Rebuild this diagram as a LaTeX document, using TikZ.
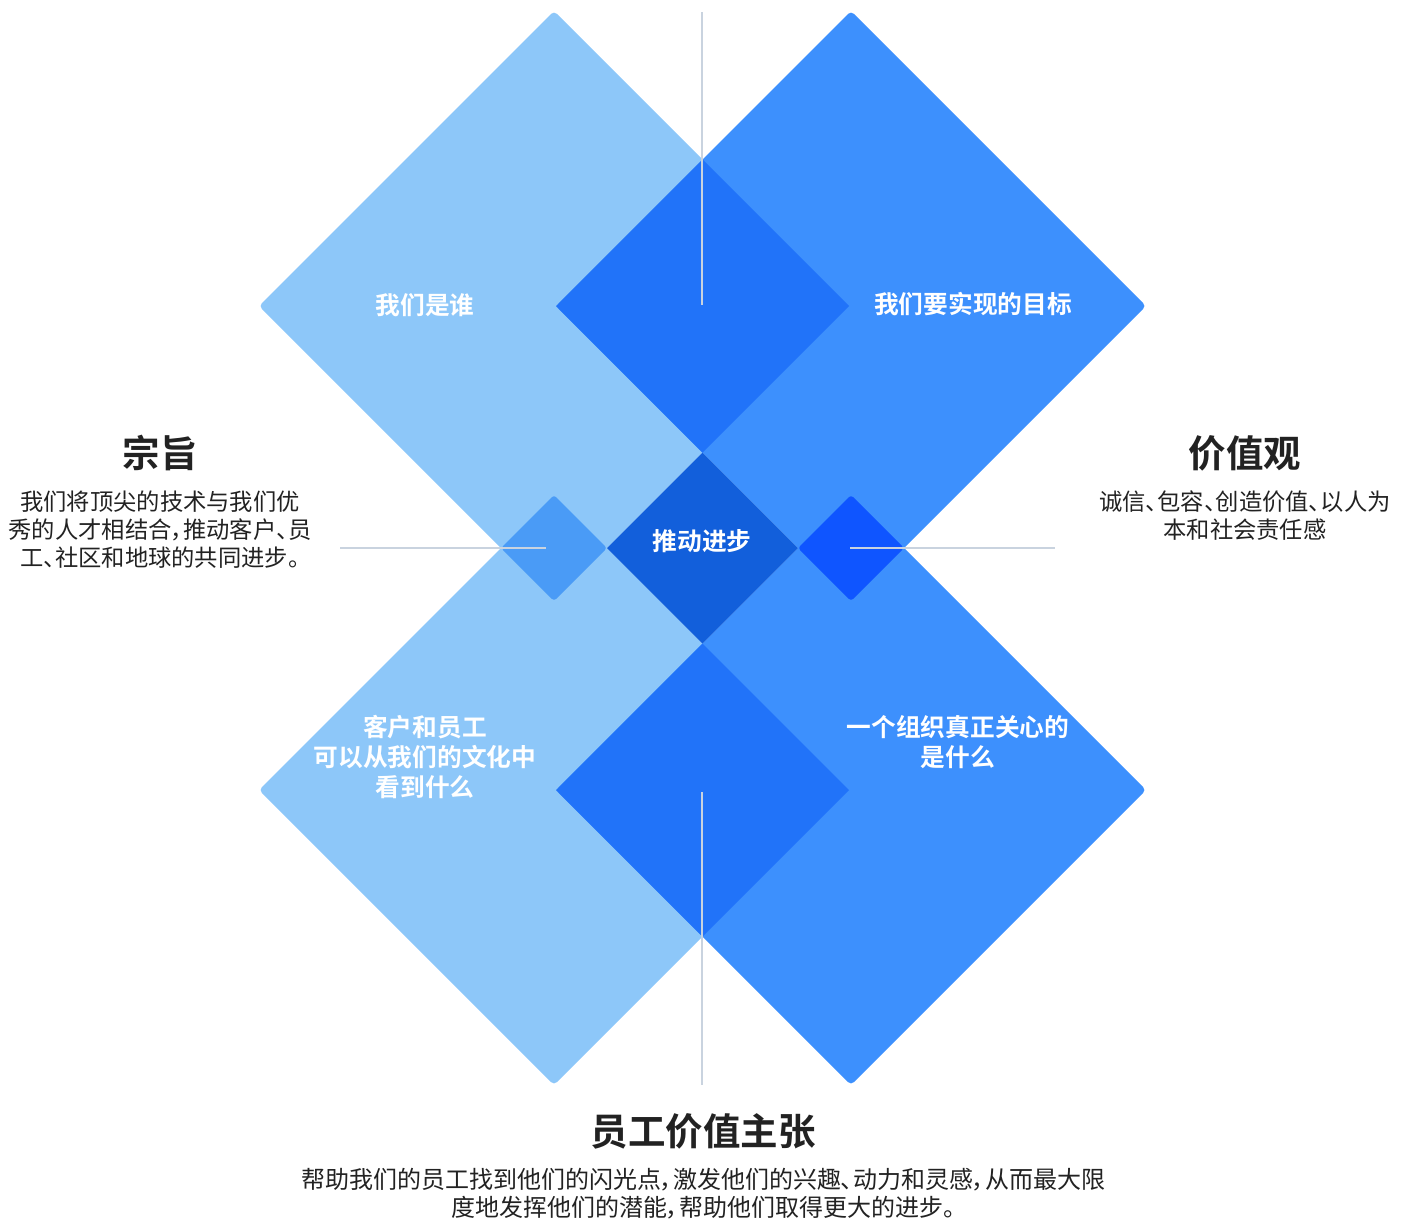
\documentclass[tikz,border=0pt]{standalone}
\usepackage{fontspec}
\setmainfont{Noto Sans CJK SC}[BoldFont={Noto Sans CJK SC Bold},RawFeature={+palt}]
\definecolor{cLight}{HTML}{8DC7F9}
\definecolor{cBlue}{HTML}{3D90FD}
\definecolor{cMid}{HTML}{2173F9}
\definecolor{cSmallL}{HTML}{4A9BF6}
\definecolor{cSmallR}{HTML}{0F55FF}
\definecolor{cCenter}{HTML}{125FDB}
\definecolor{cLine}{HTML}{C9D3DF}
\definecolor{cText}{HTML}{222222}
\tikzset{
  inlabel/.style={text=white,font=\bfseries\fontsize{24.7}{30}\selectfont,align=center,inner sep=0pt},
  headline/.style={text=cText,font=\bfseries\fontsize{37.5}{40}\selectfont,inner sep=0pt},
  bodytext/.style={text=cText,font=\fontsize{23.3}{28}\selectfont,align=center,inner sep=0pt},
  bodywide/.style={bodytext,font=\fontsize{24}{28}\selectfont},
  guide/.style={draw=cLine,line width=2.5pt}
}
\begin{document}
\begin{tikzpicture}[x=1pt,y=-1pt]
\useasboundingbox (0,0) rectangle (1410,1219);
% big diamonds
\fill[cLight,rounded corners=4] (554,11) -- (849,306) -- (554,601) -- (259,306) -- cycle;
\fill[cBlue,rounded corners=4] (851,11) -- (1146,306) -- (851,601) -- (556,306) -- cycle;
\fill[cLight,rounded corners=4] (554,495) -- (849,790) -- (554,1085) -- (259,790) -- cycle;
\fill[cBlue,rounded corners=4] (851,495) -- (1146,790) -- (851,1085) -- (556,790) -- cycle;
% overlaps
\fill[cMid] (702.5,159.5) -- (849,306) -- (702.5,452.5) -- (556,306) -- cycle;
\fill[cMid] (702.5,643.5) -- (849,790) -- (702.5,936.5) -- (556,790) -- cycle;
\fill[cSmallL,rounded corners=3] (554,495) -- (607,548) -- (554,601) -- (501,548) -- cycle;
\fill[cSmallR,rounded corners=3] (851,495) -- (904,548) -- (851,601) -- (798,548) -- cycle;
\fill[cCenter] (702.5,452.5) -- (798,548) -- (702.5,643.5) -- (607,548) -- cycle;
% guide lines
\coordinate (tA) at (702,12); \coordinate (tB) at (702,305);
\coordinate (bA) at (702,792); \coordinate (bB) at (702,1085);
\coordinate (lA) at (340,548); \coordinate (lB) at (546,548);
\coordinate (rA) at (850,548); \coordinate (rB) at (1055,548);
\draw[guide] (tA) -- (tB);
\draw[guide] (bA) -- (bB);
\draw[guide] (lA) -- (lB);
\draw[guide] (rA) -- (rB);
% inner labels
\node[inlabel] (who) at (425,305) {我们是谁};
\node[inlabel] (goal) at (973,304) {我们要实现的目标};
\node[inlabel] (push) at (702,541) {推动进步};
\node[inlabel] (culture) at (425,757) {客户和员工\\可以从我们的文化中\\看到什么};
\node[inlabel] (care) at (958,742) {一个组织真正关心的\\是什么};
% outer texts
\node[headline] (purposeT) at (160,453) {宗旨};
\node[bodytext] (purposeB) at (160,530) {我们将顶尖的技术与我们优\\秀的人才相结合，推动客户、员\\工、社区和地球的共同进步。};
\node[headline] (valuesT) at (1245,453) {价值观};
\node[bodytext] (valuesB) at (1245,516) {诚信、包容、创造价值、以人为\\本和社会责任感};
\node[headline] (evpT) at (703,1131) {员工价值主张};
\node[bodywide] (evpB) at (703,1194) {帮助我们的员工找到他们的闪光点，激发他们的兴趣、动力和灵感，从而最大限\\度地发挥他们的潜能，帮助他们取得更大的进步。};
\end{tikzpicture}
\end{document}
